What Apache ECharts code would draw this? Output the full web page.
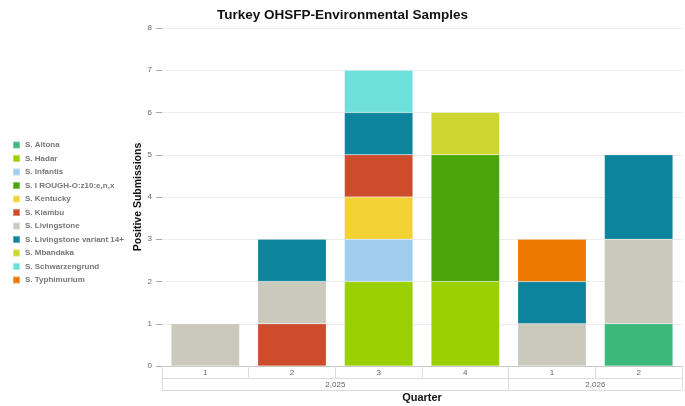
<!DOCTYPE html>
<html lang="en">
  <head>
    <meta charset="UTF-8" />
    <title>Turkey OHSFP-Environmental Samples</title>
    <script src="https://cdn.jsdelivr.net/npm/echarts@6.0.0/dist/echarts.min.js"></script>
    <style>
      html, body { margin: 0; padding: 0; background: #fff; }
    </style>
  </head>
  <body>
    <div id="chart" style="width: 685px; height: 406px"></div>

    <script type="text/javascript">
      // quarters, two levels: quarter number, then year
      const quarters = ["1", "2", "3", "4", "1", "2"];
      const years = ["2,025", "2,026"];
      const yearStart = [0, 4]; // first quarter index of each year
      const yearEnd = [4, 6];

      // serotypes, bottom of the stack first
      const serotypes = [
        "S. Altona",
        "S. Hadar",
        "S. Infantis",
        "S. I ROUGH-O:z10:e,n,x",
        "S. Kentucky",
        "S. Kiambu",
        "S. Livingstone",
        "S. Livingstone variant 14+",
        "S. Mbandaka",
        "S. Schwarzengrund",
        "S. Typhimurium",
      ];

      // counts per quarter (2025 Q1..Q4, 2026 Q1..Q2)
      const altona = [0, 0, 0, 0, 0, 1];
      const hadar = [0, 0, 2, 2, 0, 0];
      const infantis = [0, 0, 1, 0, 0, 0];
      const iRough = [0, 0, 0, 3, 0, 0];
      const kentucky = [0, 0, 1, 0, 0, 0];
      const kiambu = [0, 1, 1, 0, 0, 0];
      const livingstone = [1, 1, 0, 0, 1, 2];
      const livingstoneVar = [0, 1, 1, 0, 1, 2];
      const mbandaka = [0, 0, 0, 1, 0, 0];
      const schwarzengrund = [0, 0, 1, 0, 0, 0];
      const typhimurium = [0, 0, 0, 0, 1, 0];

      const yTicks = [0, 1, 2, 3, 4, 5, 6, 7, 8];

      const counts = [
        altona, hadar, infantis, iRough, kentucky, kiambu,
        livingstone, livingstoneVar, mbandaka, schwarzengrund, typhimurium,
      ];

      const colors = [
        "#3cb87a", "#9bd000", "#a0cdee", "#4aa50a", "#f5d234", "#cc4c2c",
        "#cbc8bc", "#0e849c", "#ccd62e", "#6ee0dc", "#ed7700",
      ];

      const font = "Liberation Sans, Arial, sans-serif";
      const chart = echarts.init(document.getElementById("chart"));

      const tableLine = { color: "#dcdcdc", width: 1 };

      const options = {
        animation: false,
        color: colors,
        title: {
          text: "Turkey OHSFP-Environmental Samples",
          left: "center",
          top: 3,
          textStyle: { fontFamily: font, fontSize: 13.5, fontWeight: "bold", color: "#111" },
        },
        legend: {
          orient: "vertical",
          left: 12,
          top: 140,
          padding: 0,
          icon: "rect",
          itemWidth: 7,
          itemHeight: 7,
          itemGap: 3.5,
          textStyle: {
            fontFamily: font,
            fontSize: 8,
            fontWeight: "bold",
            color: "#777",
            lineHeight: 10,
          },
          data: serotypes,
        },
        grid: { left: 162, right: 3, top: 28, bottom: 40, outerBoundsMode: "none" },
        xAxis: [
          {
            type: "category",
            data: quarters,
            axisLine: { lineStyle: { color: "#c8c8c8" } },
            axisTick: { show: true, length: 12, lineStyle: tableLine },
            axisLabel: { fontFamily: font, fontSize: 8, color: "#666", margin: 3 },
          },
          {
            type: "value",
            min: 0,
            max: 6,
            position: "bottom",
            offset: 12,
            axisLine: { show: true, lineStyle: tableLine },
            axisTick: { show: true, length: 12, customValues: [0].concat(yearEnd), lineStyle: tableLine },
            axisLabel: {
              fontFamily: font,
              fontSize: 8,
              color: "#666",
              margin: 3,
              customValues: yearStart.map((s, i) => (s + yearEnd[i]) / 2),
              formatter: (v) => years[yearStart.findIndex((s, i) => (s + yearEnd[i]) / 2 === v)],
            },
            splitLine: { show: false },
          },
          {
            type: "value",
            min: 0,
            max: 6,
            position: "bottom",
            offset: 24,
            name: "Quarter",
            nameLocation: "middle",
            nameGap: 2,
            nameTextStyle: { fontFamily: font, fontSize: 11, fontWeight: "bold", color: "#111" },
            axisLine: { show: true, lineStyle: tableLine },
            axisTick: { show: false },
            axisLabel: { show: false },
            splitLine: { show: false },
          },
        ],
        yAxis: {
          type: "value",
          min: yTicks[0],
          max: yTicks[yTicks.length - 1],
          interval: 1,
          name: "Positive Submissions",
          nameLocation: "middle",
          nameGap: 18,
          nameMoveOverlap: false,
          nameTextStyle: { fontFamily: font, fontSize: 10.5, fontWeight: "bold", color: "#111" },
          axisLine: { show: false },
          axisTick: { show: true, length: 6, lineStyle: { color: "#aaa" } },
          axisLabel: { fontFamily: font, fontSize: 8, color: "#666", margin: 10 },
          splitLine: { lineStyle: { color: "#ececec" } },
        },
        series: serotypes.map((name, i) => ({
          name: name,
          type: "bar",
          stack: "total",
          barWidth: "79%",
          itemStyle: { borderColor: "rgba(255,255,255,0.35)", borderWidth: 0.5 },
          data: counts[i].map((v) => (v === 0 ? null : v)),
        })),
      };

      chart.setOption(options);
    </script>
  </body>
</html>
